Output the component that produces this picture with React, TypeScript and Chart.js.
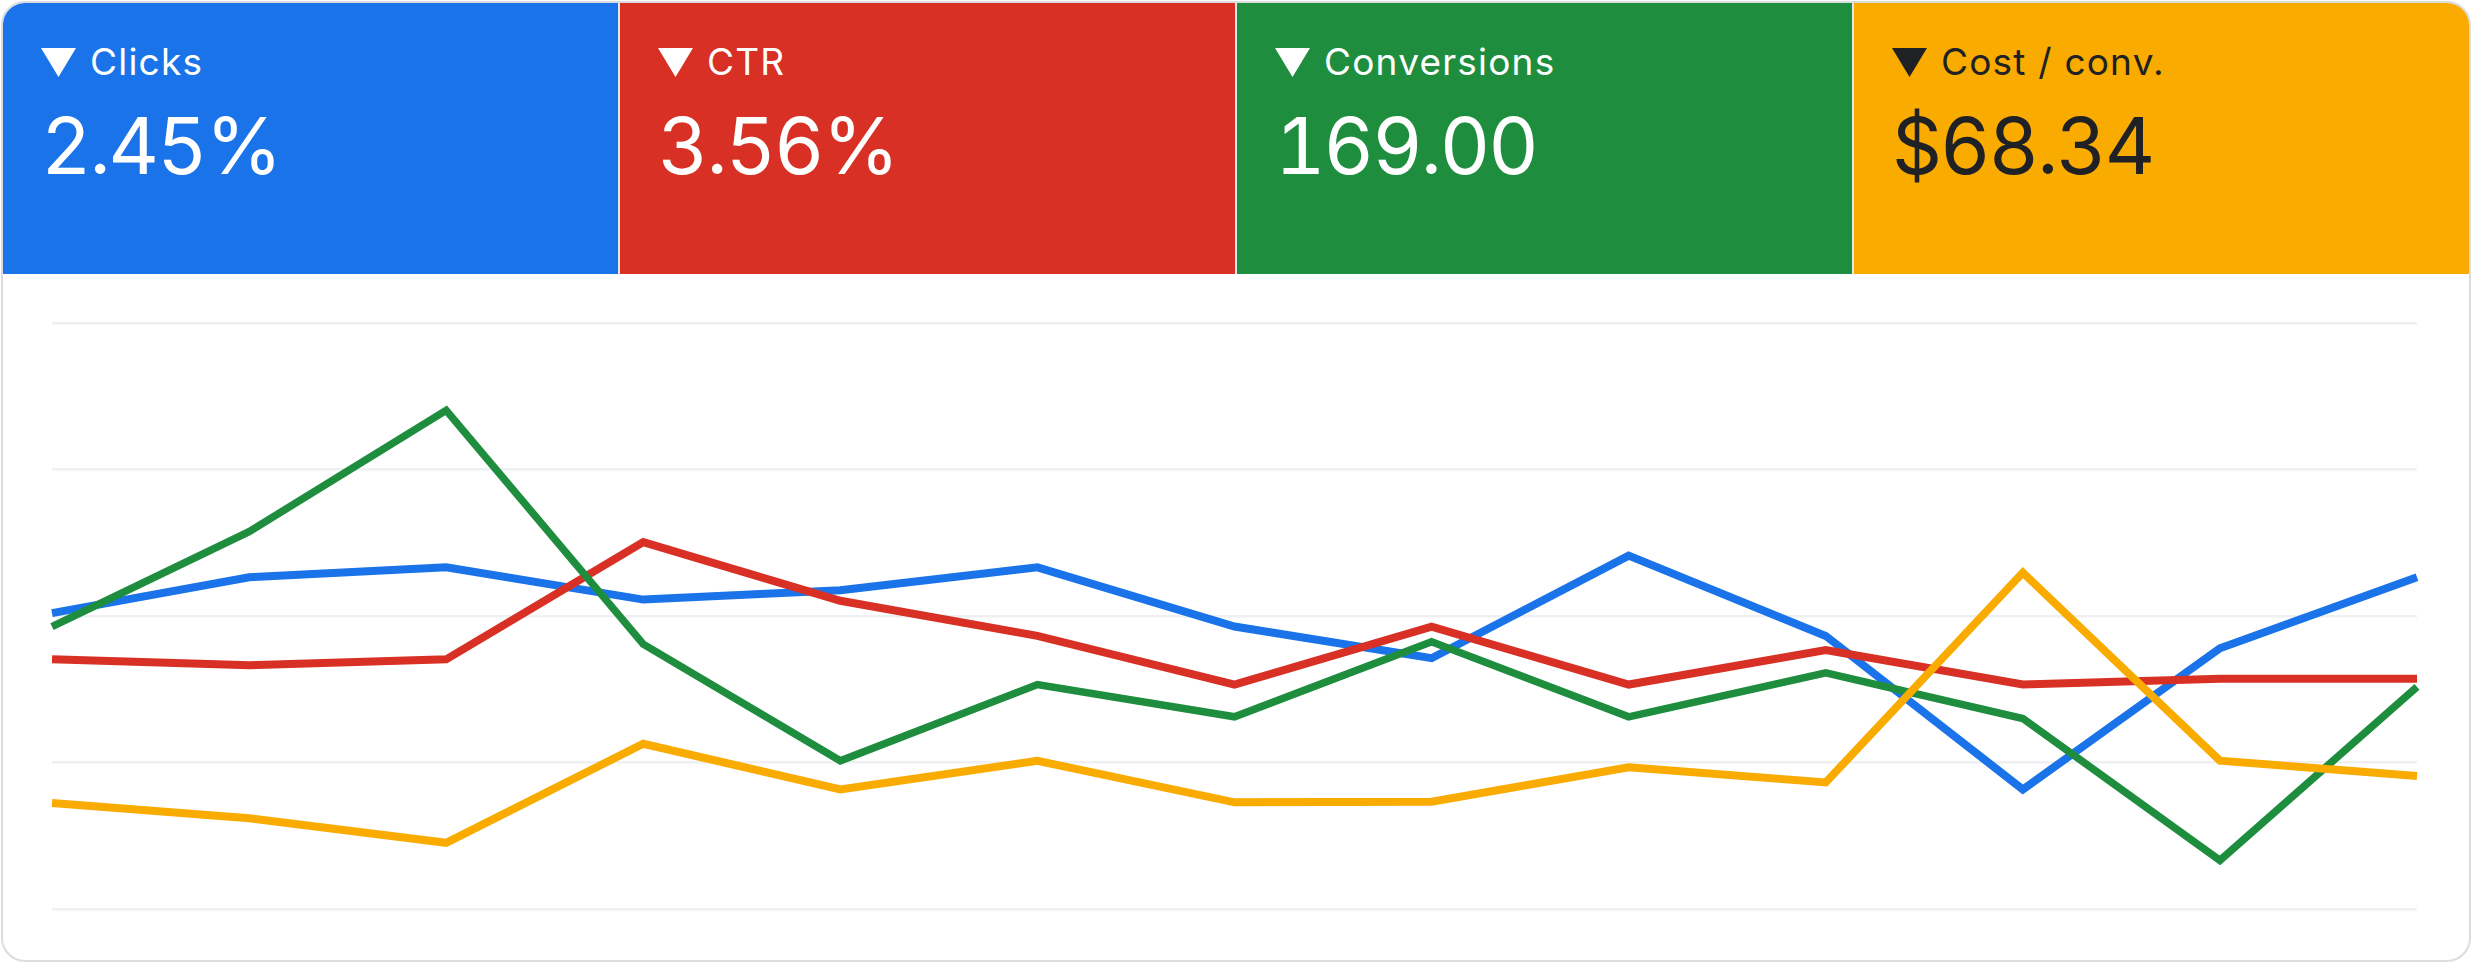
import { useEffect, useRef } from "react";
import { Chart, registerables } from "chart.js";

Chart.register(...registerables);

// metric tiles
const metricNames = ["Clicks", "CTR", "Conversions", "Cost / conv."];
const metricValues = ["2.45%", "3.56%", "169.00", "$68.34"];

// 13 periods, axis labels are hidden in the card
const periods = ["1", "2", "3", "4", "5", "6", "7", "8", "9", "10", "11", "12", "13"];

const clicks = [50.5, 56.6, 58.3, 52.8, 54.4, 58.3, 48.2, 42.8, 60.3, 46.6, 20.4, 44.5, 56.6];
const ctr = [42.6, 41.6, 42.6, 62.6, 52.6, 46.6, 38.3, 48.2, 38.3, 44.2, 38.3, 39.3, 39.3];
const conversions = [48.2, 64.4, 85.1, 45.2, 25.3, 38.3, 32.8, 45.6, 32.8, 40.3, 32.5, 8.3, 37.9];
const costPerConv = [18.1, 15.5, 11.3, 28.2, 20.4, 25.3, 18.2, 18.3, 24.2, 21.6, 57.4, 25.3, 22.7];

const yTicks = [0, 25, 50, 75, 100];

const BLUE = "#1a73e8";
const RED = "#d93025";
const GREEN = "#1e8e3e";
const YELLOW = "#f9ab00";
const tileColors = [BLUE, RED, GREEN, YELLOW];
const tileText = ["#ffffff", "#ffffff", "#ffffff", "#202124"];

const MetricsChart = () => {
  const chartRef = useRef<HTMLCanvasElement>(null);

  useEffect(() => {
    const ctx = chartRef.current!.getContext("2d")!;

    const myChart = new Chart(ctx, {
      type: "line",
      data: {
        labels: periods,
        datasets: [
          { label: metricNames[0], data: clicks, borderColor: BLUE, borderWidth: 8, order: 3 },
          { label: metricNames[1], data: ctr, borderColor: RED, borderWidth: 8, order: 2 },
          { label: metricNames[2], data: conversions, borderColor: GREEN, borderWidth: 7.5, order: 1 },
          { label: metricNames[3], data: costPerConv, borderColor: YELLOW, borderWidth: 8, order: 0 },
        ],
      },
      options: {
        responsive: false,
        animation: false,
        layout: { padding: 8 },
        elements: {
          point: { radius: 0, hoverRadius: 0 },
          line: { tension: 0, fill: false, borderJoinStyle: "miter", borderCapStyle: "butt" },
        },
        plugins: {
          legend: { display: false },
          tooltip: { enabled: false },
        },
        scales: {
          x: { display: false },
          y: {
            min: yTicks[0],
            max: yTicks[yTicks.length - 1],
            afterBuildTicks: (axis) => {
              axis.ticks = yTicks.map((v) => ({ value: v }));
            },
            ticks: { display: false },
            border: { display: false },
            grid: { color: "#eef0f2", lineWidth: 2.5, drawTicks: false },
          },
        },
      },
    });

    return () => {
      myChart.destroy();
    };
  }, []);

  return <canvas ref={chartRef} width={2381} height={602} />;
};

export default function App() {
  useEffect(() => {
    document.body.style.margin = "0";
  }, []);

  return (
    <div
      style={{
        position: "absolute",
        left: 1,
        top: 1,
        width: 2470,
        height: 961,
        boxSizing: "border-box",
        border: "2px solid #dadce0",
        borderRadius: 24,
        overflow: "hidden",
        background: "#fff",
        fontFamily: "Inter, Roboto, sans-serif",
      }}
    >
      <div style={{ display: "flex", height: 271 }}>
        {metricNames.map((name, i) => (
          <div
            key={name}
            style={{
              flex: 1,
              position: "relative",
              background: tileColors[i],
              color: tileText[i],
              borderLeft: i > 0 ? "2px solid #e3e6ea" : "none",
            }}
          >
            <div
              style={{
                position: "absolute",
                left: 38,
                top: 40,
                fontSize: 37,
                lineHeight: "37px",
                letterSpacing: 1.2,
                whiteSpace: "nowrap",
                display: "flex",
                alignItems: "center",
              }}
            >
              <span
                style={{
                  display: "inline-block",
                  width: 35,
                  height: 29,
                  marginRight: 14,
                  marginTop: 2,
                  background: tileText[i],
                  clipPath: "polygon(0 0, 100% 0, 50% 100%)",
                }}
              />
              <span>{name}</span>
            </div>
            <div
              style={{
                position: "absolute",
                left: 38,
                top: 104,
                fontSize: 78,
                lineHeight: "78px",
                letterSpacing: -2,
                fontFeatureSettings: '"tnum"',
                whiteSpace: "nowrap",
              }}
            >
              {metricValues[i]}
            </div>
          </div>
        ))}
      </div>
      <div style={{ position: "absolute", left: 41, top: 312 }}>
        <MetricsChart />
      </div>
    </div>
  );
}
